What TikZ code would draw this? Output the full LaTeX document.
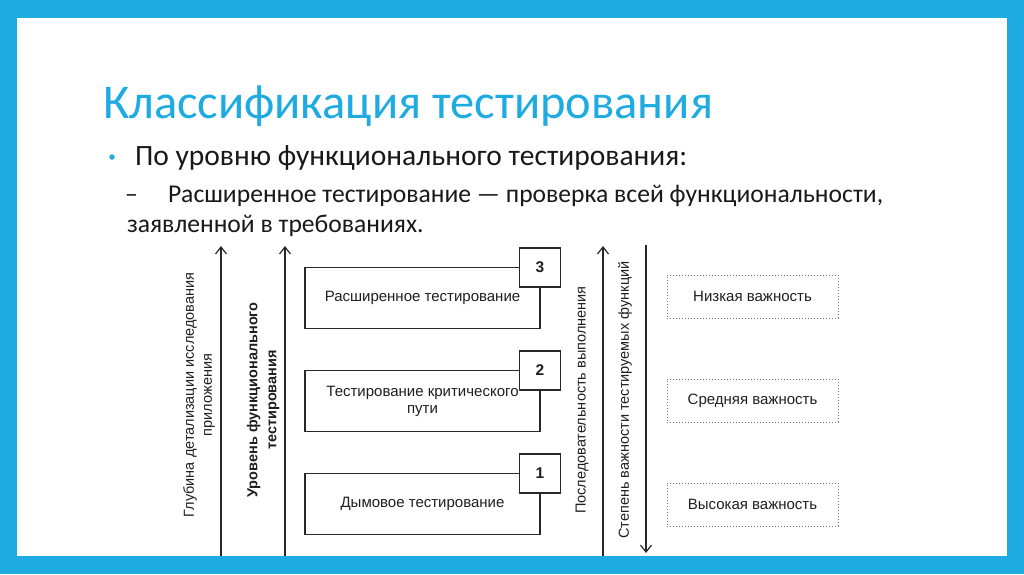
\documentclass[tikz,border=0pt]{standalone}
\usepackage{fontspec}
\setmainfont{Carlito}
\newfontfamily\diagfont{Liberation Sans}
\usepackage{xcolor}
\usetikzlibrary{arrows.meta, positioning}
\definecolor{slideblue}{RGB}{29,171,226}
\definecolor{bodytext}{RGB}{25,25,25}
\definecolor{diagline}{RGB}{40,40,40}

\begin{document}
\begin{tikzpicture}[
  x=1pt, y=-1pt,
  node distance=42pt,
  every node/.style={inner sep=0pt, outer sep=0pt},
  slidetext/.style={anchor=base west, text=bodytext},
  diag/.style={font=\diagfont\fontsize{15}{17}\selectfont, text=black!88},
  stagebox/.style={diag, rectangle, draw=diagline, line width=1.2pt, fill=white, align=center, minimum width=235pt, minimum height=61pt},
  numbox/.style={stagebox, minimum width=41pt, minimum height=39pt, font=\diagfont\bfseries\fontsize{15.5}{17}\selectfont},
  impbox/.style={diag, rectangle, draw=black!55, dash pattern=on 1pt off 2pt, line width=0.9pt, minimum width=171pt, minimum height=43pt},
  axislabel/.style={diag, rotate=90, align=center, font=\diagfont\fontsize{14.5}{18}\selectfont},
  axis/.style={draw=diagline, line width=1.2pt, -{Straight Barb[length=7pt, width=11pt]}}
]
  \useasboundingbox (0,0) rectangle (1024,574);
  \fill[slideblue] (0,0) rectangle (1024,574);
  \fill[white] (17,18) rectangle (1007,556);

  \node[anchor=base west, text=slideblue, font=\fontsize{48.5}{52}\selectfont] (title) at (103,118) {Классификация тестирования};
  \node[circle, fill=slideblue, minimum size=5.5pt] (dot) at (112,157) {};
  \node[slidetext, font=\fontsize{29.5}{32}\selectfont] (point) at (135,165) {По уровню функционального тестирования:};
  \node[slidetext, font=\fontsize{25.6}{30}\selectfont] (dash) at (125,202) {–};
  \node[slidetext, font=\fontsize{25.6}{30}\selectfont] (sub) at (168,202) {Расширенное тестирование — проверка всей функциональности,};
  \node[slidetext, font=\fontsize{25.6}{30}\selectfont] (subb) at (127,232) {заявленной в требованиях.};

  \coordinate (depth-b) at (221,556);
  \coordinate (depth-t) at (221,246);
  \coordinate (level-b) at (285,556);
  \coordinate (level-t) at (285,246);
  \coordinate (order-b) at (603,556);
  \coordinate (order-t) at (603,246);
  \coordinate (weight-t) at (646,245);
  \coordinate (weight-b) at (646,553);

  \draw[axis] (depth-b) -- (depth-t);
  \draw[axis] (level-b) -- (level-t);
  \draw[axis] (order-b) -- (order-t);
  \draw[axis] (weight-t) -- (weight-b);

  \node[axislabel] (depth) at (199,395) {Глубина детализации исследования\\приложения};
  \node[axislabel, font=\diagfont\bfseries\fontsize{14.5}{19}\selectfont] (level) at (263,400) {Уровень функционального\\тестирования};
  \node[axislabel] (order) at (582,400) {Последовательность выполнения};
  \node[axislabel] (weight) at (625,400) {Степень важности тестируемых функций};

  \node[stagebox] (ext) at (422.5,298) {Расширенное тестирование};
  \node[stagebox, below=of ext] (crit) {Тестирование критического\\пути};
  \node[stagebox, below=of crit] (smoke) {Дымовое тестирование};
  \node[numbox] (n3) at (ext.north east) {3};
  \node[numbox] (n2) at (crit.north east) {2};
  \node[numbox] (n1) at (smoke.north east) {1};

  \node[impbox] (low) at (752.5,296.5) {Низкая важность};
  \node[impbox, below=61pt of low] (mid) {Средняя важность};
  \node[impbox, below=61pt of mid] (high) {Высокая важность};
\end{tikzpicture}
\end{document}
